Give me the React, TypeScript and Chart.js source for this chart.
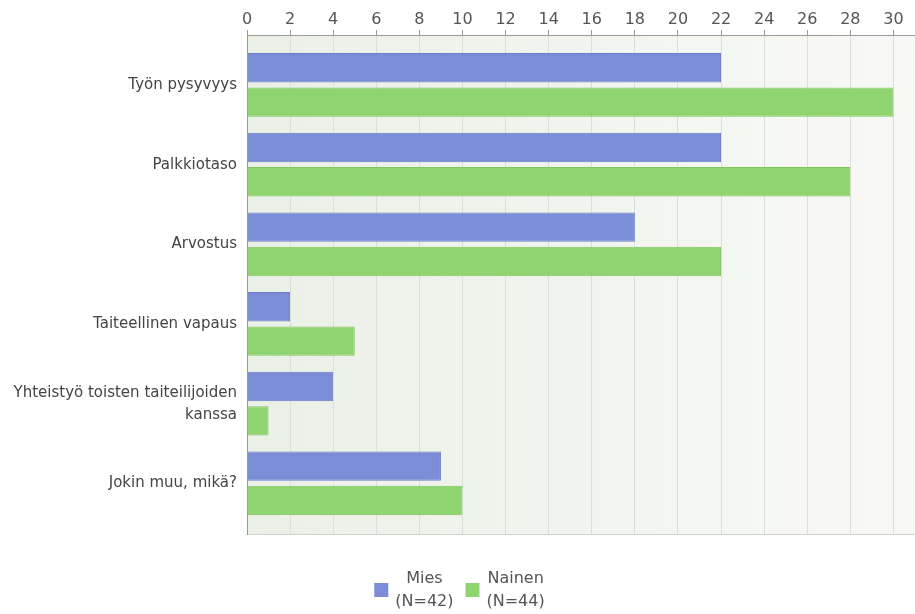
import React, { useEffect, useRef } from "react";
import { Chart, registerables } from "chart.js";

Chart.register(...registerables);

const categories: (string | string[])[] = [
  "Työn pysyvyys",
  "Palkkiotaso",
  "Arvostus",
  "Taiteellinen vapaus",
  ["Yhteistyö toisten taiteilijoiden", "kanssa"],
  "Jokin muu, mikä?",
];
const miesValues = [22, 22, 18, 2, 4, 9];
const nainenValues = [30, 28, 22, 5, 1, 10];
const seriesNames = ["Mies", "Nainen"];
const seriesCounts = ["(N=42)", "(N=44)"];
const xTickValues = [0, 2, 4, 6, 8, 10, 12, 14, 16, 18, 20, 22, 24, 26, 28, 30];

const FONT = "'DejaVu Sans', Verdana, sans-serif";

const plotBackground = {
  id: "plotBackground",
  beforeDraw(chart: any) {
    const { ctx, chartArea } = chart;
    if (!chartArea) return;
    const g = ctx.createLinearGradient(chartArea.left, 0, chartArea.right, 0);
    g.addColorStop(0, "#ebf0e7");
    g.addColorStop(1, "#f8f9f6");
    ctx.save();
    ctx.fillStyle = g;
    ctx.fillRect(chartArea.left, chartArea.top, chartArea.right - chartArea.left, chartArea.bottom - chartArea.top);
    ctx.strokeStyle = "#cfd2cc";
    ctx.lineWidth = 1;
    ctx.beginPath();
    ctx.moveTo(chartArea.left, chartArea.bottom + 0.5);
    ctx.lineTo(chartArea.right, chartArea.bottom + 0.5);
    ctx.stroke();
    ctx.restore();
  },
};

const customLegend = {
  id: "customLegend",
  afterDraw(chart: any) {
    const { ctx } = chart;
    const datasets = chart.data.datasets;
    ctx.save();
    ctx.font = `16px ${FONT}`;
    const box = 14;
    const gapBoxText = 7;
    const itemGap = 12;
    const items = datasets.map((ds: any, i: number) => {
      const lines = [seriesNames[i], seriesCounts[i]];
      const tw = Math.max(...lines.map((l) => ctx.measureText(l).width));
      return { lines, tw, color: ds.backgroundColor };
    });
    const total = items.reduce((s: number, it: any) => s + box + gapBoxText + it.tw, 0) + itemGap * (items.length - 1);
    let x = chart.width / 2 - total / 2 + 2;
    const boxCy = 590;
    items.forEach((it: any) => {
      ctx.fillStyle = it.color;
      ctx.fillRect(x, boxCy - box / 2, box, box);
      const tx = x + box + gapBoxText + it.tw / 2;
      ctx.fillStyle = "#555";
      ctx.textAlign = "center";
      ctx.textBaseline = "middle";
      ctx.fillText(it.lines[0], tx, 579);
      ctx.fillText(it.lines[1], tx, 602);
      x += box + gapBoxText + it.tw + itemGap;
    });
    ctx.restore();
  },
};

export default function App() {
  const ref = useRef<HTMLCanvasElement | null>(null);
  useEffect(() => {
    document.body.style.margin = "0";
    if (!ref.current) return;
    const miesData = miesValues.map((v, i) => ({ x: v, y: i }));
    const nainenData = nainenValues.map((v, i) => ({ x: v, y: i }));
    const chart = new Chart(ref.current, {
      type: "bar",
      data: {
        datasets: [
          {
            label: seriesNames[0],
            data: miesData,
            backgroundColor: "#7b8dd6",
            borderColor: "#6a7cc8",
            borderWidth: 1,
            categoryPercentage: 0.863,
            barPercentage: 0.855,
          },
          {
            label: seriesNames[1],
            data: nainenData,
            backgroundColor: "#8fd46f",
            borderColor: "#7fc65f",
            borderWidth: 1,
            categoryPercentage: 0.863,
            barPercentage: 0.855,
          },
        ],
      },
      options: {
        indexAxis: "y",
        responsive: false,
        animation: false,
        layout: { padding: { top: 0, right: 0, bottom: 80, left: 0 } },
        plugins: {
          legend: { display: false },
          tooltip: { enabled: false },
        },
        scales: {
          x: {
            type: "linear",
            position: "top",
            min: 0,
            max: 31,
            afterBuildTicks: (scale: any) => {
              scale.ticks = xTickValues.map((v) => ({ value: v }));
            },
            afterFit: (scale: any) => {
              scale.height = 35;
            },
            ticks: {
              font: { size: 16, family: FONT },
              color: "#555",
              padding: 1,
            },
            grid: {
              color: "#dcdfd9",
              tickColor: "#9a9a9a",
              tickLength: 5,
            },
            border: { color: "#9a9a9a" },
          },
          y: {
            type: "linear",
            reverse: true,
            offset: false,
            min: -0.627,
            max: 5.636,
            afterBuildTicks: (scale: any) => {
              scale.ticks = categories.map((_, i) => ({ value: i }));
            },
            afterFit: (scale: any) => {
              scale.width = 247;
            },
            grid: { display: false, drawTicks: false, offset: false },
            border: { color: "#9a9a9a" },
            ticks: {
              autoSkip: false,
              font: { size: 15, family: FONT, lineHeight: 1.47 },
              color: "#444",
              padding: 10,
              callback: (value: any) => categories[value as number] as any,
            },
          },
        },
      },
      plugins: [plotBackground, customLegend],
    });
    return () => chart.destroy();
  }, []);
  return (
    <div style={{ position: "absolute", left: 0, top: 0, width: 915, height: 614, background: "#fff" }}>
      <canvas ref={ref} width={915} height={614} style={{ display: "block" }} />
    </div>
  );
}
